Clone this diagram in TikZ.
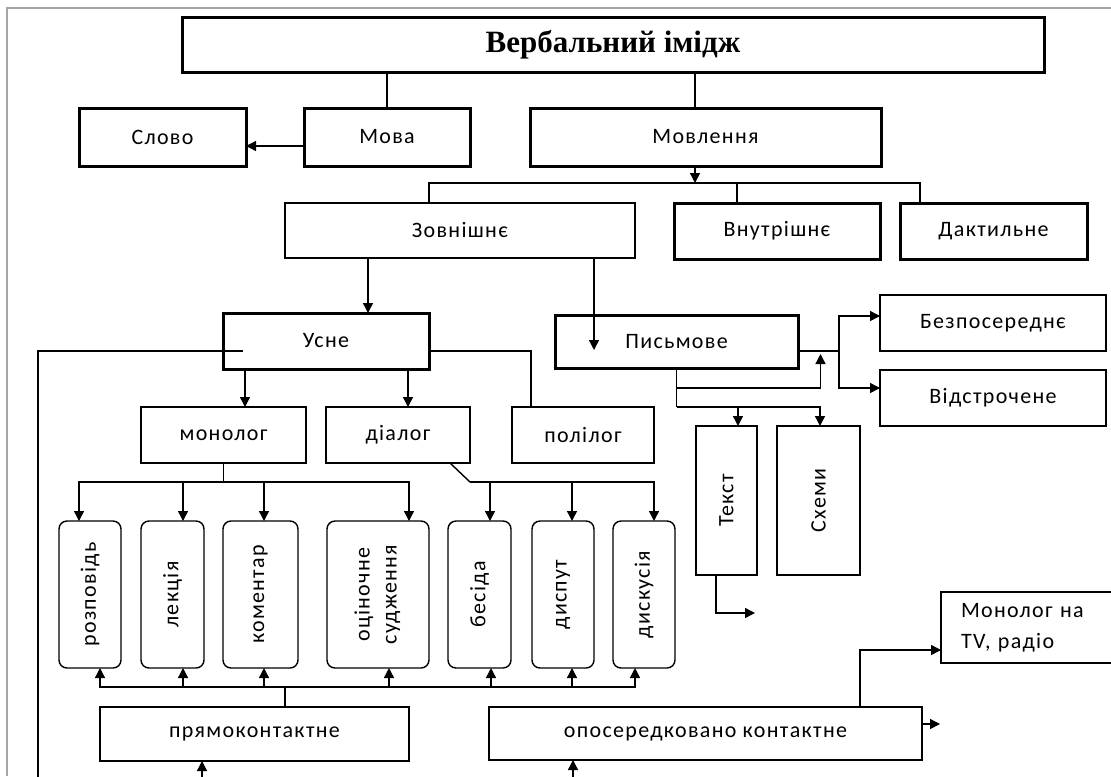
\documentclass[tikz,border=0pt]{standalone}
\usepackage{graphicx}
\usepackage{fontspec}
\setmainfont{Carlito}[LetterSpace=6]
\newfontfamily\titlefont{Liberation Serif}
\usetikzlibrary{arrows.meta,calc}

\begin{document}
\begin{tikzpicture}[
    x=0.5pt, y=-0.5pt,
    font=\fontsize{11}{12.5}\selectfont,
    box/.style={rectangle, draw, inner sep=0pt, outer sep=0pt, align=center},
    thickbox/.style={box, line width=1.5pt},
    thinbox/.style={box, line width=0.7pt},
    vbox/.style={box, line width=0.7pt, rounded corners=4pt, minimum height=73.5pt},
    link/.style={line width=0.7pt},
    arrow/.style={link, -{Triangle[length=5pt, width=5pt]}},
    frame/.style={gray!70, line width=0.6pt}
]
    \useasboundingbox (0,0) rectangle (1111,776);
    \clip (0,0) rectangle (1111,776);
    \draw[frame] (7,776) -- (7,8) -- (1111,8);

    % Top
    \node[thickbox, minimum width=431pt, minimum height=27.5pt] (title) at (613,44.5) {\titlefont\bfseries\fontsize{15.5}{17}\selectfont Вербальний імідж};
    \node[thickbox, minimum width=83.5pt, minimum height=29pt] (slovo) at (162.5,137) {Слово};
    \node[thickbox, minimum width=83pt, minimum height=29pt] (mova) at (387,137) {Мова};
    \node[thickbox, minimum width=175.5pt, minimum height=29pt] (movl) at (705.5,137) {Мовлення};

    % Kinds of speech
    \node[thinbox, minimum width=175pt, minimum height=27.5pt] (zovn) at (460,230.5) {Зовнішнє};
    \node[thickbox, minimum width=103pt, minimum height=28pt] (vnutr) at (777,231) {Внутрішнє};
    \node[thickbox, minimum width=93.5pt, minimum height=28pt] (dakt) at (993.5,231) {Дактильне};

    % Oral and written
    \node[thickbox, minimum width=103pt, minimum height=28pt] (usne) at (326,341) {Усне};
    \node[thickbox, minimum width=121.5pt, minimum height=26.5pt] (pysm) at (676.5,341.5) {Письмове};
    \node[thinbox, minimum width=113pt, minimum height=28pt] (bezp) at (993,323) {Безпосереднє};
    \node[thinbox, minimum width=113pt, minimum height=28pt] (vidstr) at (993,398) {Відстрочене};

    \node[thinbox, minimum width=82.5pt, minimum height=28pt] (monolog) at (223.5,435) {монолог};
    \node[thinbox, minimum width=72pt, minimum height=28pt] (dialog) at (398,435) {діалог};
    \node[thinbox, minimum width=71pt, minimum height=28pt] (polilog) at (583,435) {полілог};
    \node[thinbox, minimum width=30.5pt, minimum height=74.5pt] (tekst) at (726.5,500.5) {\rotatebox{90}{Текст}};
    \node[thinbox, minimum width=41.5pt, minimum height=74.5pt] (skhemy) at (818.5,500.5) {\rotatebox{90}{Схеми}};

    % Genres
    \node[vbox, minimum width=31pt] (rozp) at (90,594.5) {\rotatebox{90}{розповідь}};
    \node[vbox, minimum width=31.5pt] (lekts) at (172.5,594.5) {\rotatebox{90}{лекція}};
    \node[vbox, minimum width=37.5pt] (koment) at (260.5,594.5) {\rotatebox{90}{коментар}};
    \node[vbox, minimum width=51pt] (otsin) at (378,594.5) {\rotatebox{90}{\begin{tabular}{@{}c@{}}оціночне\\[1pt]судження\end{tabular}}};
    \node[vbox, minimum width=31.5pt] (besida) at (479.5,594.5) {\rotatebox{90}{бесіда}};
    \node[vbox, minimum width=31pt] (disput) at (563,594.5) {\rotatebox{90}{диспут}};
    \node[vbox, minimum width=31pt] (dyskus) at (644,594.5) {\rotatebox{90}{дискусія}};

    % Contact
    \node[thinbox, minimum width=154.5pt, minimum height=27pt] (pryamo) at (254.5,734) {прямоконтактне};
    \node[thinbox, minimum width=216.5pt, minimum height=26.5pt] (oposer) at (705.5,733.5) {опосередковано контактне};
    \node[thinbox, align=left, inner xsep=10pt, text width=74.5pt, minimum height=35.5pt] (tvradio) at (1035.5,627.5) {Монолог на\\[3pt]TV, радіо};

    % Arrows
    \coordinate (mb) at (695,183);
    \draw[link] (title.south -| mova.north) -- (mova.north);
    \draw[link] (title.south -| mb) -- (movl.north -| mb);
    \draw[arrow] ([yshift=-4.5pt]mova.west) -- ([yshift=-4.5pt]slovo.east);
    \draw[arrow] (movl.south -| mb) -- (mb);
    \draw[link] ([xshift=-15.5pt]zovn.north) |- (mb) -| ([xshift=-36.75pt]dakt.north);
    \draw[link] ([xshift=-20pt]vnutr.north) -- ++(0,-20);

    \draw[arrow] ([xshift=-46pt]zovn.south) -- ([xshift=21pt]usne.north);
    \draw[arrow] ([xshift=67pt]zovn.south) -- ++(0,92);

    \draw[arrow] ([xshift=-40.5pt]usne.south) -- ([xshift=10.75pt]monolog.north);
    \draw[arrow] ([xshift=41pt]usne.south) -- ([xshift=5pt]dialog.north);
    \draw[link] ([yshift=-5pt]usne.east) -| ([xshift=-26pt]polilog.north);
    \draw[link] ([xshift=-41.5pt,yshift=-5pt]usne.center) -- ++(-205,0) -- ++(0,440) coordinate (lb);
    \draw[arrow] (lb) -| ([xshift=-26.25pt]pryamo.south);
    \draw[arrow] (lb) -| ([xshift=-66.25pt]oposer.south);

    \draw[link] (monolog.south) -- ++(0,19) coordinate (mnb);
    \draw[arrow] (mnb) -| ([xshift=-5.5pt]rozp.north);
    \draw[arrow] (mnb) -| ([xshift=5.25pt]lekts.north);
    \draw[arrow] (mnb) -| ([xshift=1.75pt]koment.north);
    \draw[arrow] (mnb) -| ([xshift=15.5pt]otsin.north);

    \draw[link] ([xshift=26pt]dialog.south) -- ++(20,19) coordinate (dlb);
    \draw[arrow] (dlb) -| ([xshift=5.25pt]besida.north);
    \draw[arrow] (dlb) -| ([xshift=4.5pt]disput.north);
    \draw[arrow] (dlb) -| ([xshift=5pt]dyskus.north);

    \draw[link] ([xshift=15.25pt]pryamo.north) -- ++(0,-20) coordinate (pb);
    \draw[arrow] (pb) -| ([xshift=5pt]rozp.south);
    \draw[arrow] (pb) -| ([xshift=5.25pt]lekts.south);
    \draw[arrow] (pb) -| ([xshift=1.75pt]koment.south);
    \draw[arrow] (pb) -| ([xshift=5.5pt]otsin.south);
    \draw[arrow] (pb) -| ([xshift=5.75pt]besida.south);
    \draw[arrow] (pb) -| ([xshift=4.5pt]disput.south);
    \draw[arrow] (pb) -| ([xshift=-4.5pt]dyskus.south);

    \draw[link] ([yshift=-4.75pt]pysm.east) -- ++(41,0) coordinate (pr);
    \draw[arrow] (pr) |- ([yshift=3.5pt]bezp.west);
    \draw[arrow] (pr) |- ([yshift=5pt]vidstr.west);
    \draw[link] (pysm.south) -- ++(0,39) coordinate (ps);
    \draw[arrow] ([yshift=-10pt]pysm.south) -- ++(144,0) -- ++(0,-34);
    \draw[arrow] (ps) -| ([xshift=5.75pt]tekst.north);
    \draw[arrow] (ps) -| ([xshift=0.75pt]skhemy.north);
    \draw[arrow] ([xshift=-5.25pt]tekst.south) |- ++(39,38);

    \draw[arrow] ([xshift=77.25pt]oposer.north) |- ([yshift=-11.25pt]tvradio.west);
    \draw[arrow] ([yshift=4.75pt]oposer.east) -- ++(18,0);

\end{tikzpicture}
\end{document}
